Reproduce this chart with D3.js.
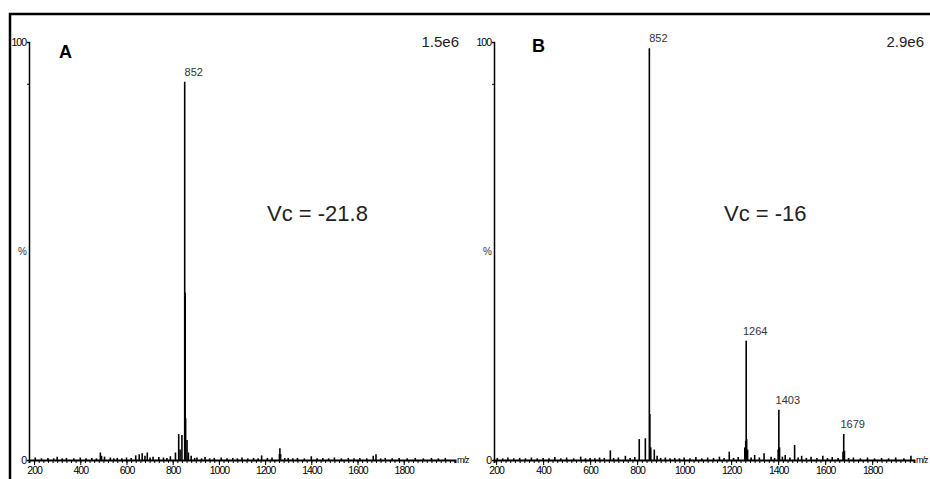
<!DOCTYPE html>
<html>
<head>
<meta charset="utf-8">
<script src="https://cdn.jsdelivr.net/npm/d3@7"></script>
<style>
body { margin: 0; background: #fff; }
svg text { font-family: "Liberation Sans", Arial, sans-serif; }
.axis text { font-family: "Liberation Sans Narrow", "Liberation Sans", sans-serif; font-size: 10.5px; letter-spacing: -1px; fill: #000; }
.axis path, .axis line { stroke: #000; }
</style>
</head>
<body>
<div id="chart"></div>
<script>
var svgWidth = 930;
var svgHeight = 479;

// panel A, Vc = -21.8 : [m/z, relative intensity %]
var peaksA = [
    [205, 0.6], [232, 0.4], [260, 0.5], [285, 0.4], [300, 0.8], [322, 0.4], [340, 0.5],
    [372, 0.4], [400, 0.6], [425, 0.4], [450, 0.5], [470, 0.4],
    [487, 1.8], [492, 1.0], [505, 0.8], [530, 0.6], [545, 0.4], [560, 0.5], [580, 0.4],
    [600, 0.6], [620, 0.5], [640, 1.1], [655, 1.4], [668, 1.6], [680, 1.0], [690, 1.8],
    [702, 0.6], [715, 0.8], [740, 0.7], [760, 0.6], [775, 0.5], [790, 0.9], [812, 1.8],
    [826, 6.2], [832, 2.5], [840, 6.0], [852, 90.5], [854, 40.0], [856, 10.0], [862, 4.8],
    [868, 1.8], [880, 1.0], [895, 0.5], [905, 0.6], [925, 0.4], [940, 0.7], [960, 0.4],
    [980, 0.5], [1010, 0.6], [1035, 0.4], [1060, 0.5], [1080, 0.4], [1100, 0.6],
    [1125, 0.4], [1150, 0.5], [1170, 0.4], [1185, 1.1], [1210, 0.5], [1230, 0.6],
    [1262, 1.4], [1264, 2.8], [1267, 1.4], [1285, 0.5], [1300, 0.5], [1320, 0.4],
    [1340, 0.5], [1370, 0.4], [1400, 0.9], [1425, 0.4], [1450, 0.5], [1475, 0.4],
    [1500, 0.6], [1530, 0.4], [1560, 0.5], [1585, 0.4], [1610, 0.5], [1640, 0.4],
    [1668, 1.0], [1680, 1.4], [1700, 0.4], [1720, 0.5], [1750, 0.4], [1780, 0.5],
    [1815, 0.4], [1850, 0.5], [1885, 0.4], [1920, 0.5], [1950, 0.4], [1980, 0.5]
];
var labelsA = [852];

// panel B, Vc = -16
var peaksB = [
    [205, 0.5], [228, 0.4], [250, 0.6], [275, 0.4], [300, 0.5], [325, 0.4], [350, 0.6],
    [375, 0.4], [400, 0.5], [425, 0.4], [450, 0.7], [475, 0.4], [500, 0.6], [530, 0.4],
    [560, 0.8], [580, 0.4], [600, 0.5], [620, 0.4], [640, 0.6], [660, 0.5], [686, 2.3],
    [700, 0.5], [720, 0.6], [750, 1.0], [770, 0.5], [790, 0.7], [809, 5.0], [835, 5.2],
    [852, 98.5], [854, 11.0], [858, 3.0], [873, 2.5], [885, 1.0], [900, 0.5], [920, 0.6],
    [940, 0.4], [960, 0.5], [980, 0.4], [1000, 0.6], [1025, 0.4], [1050, 0.7], [1075, 0.4],
    [1100, 0.6], [1125, 0.5], [1150, 0.8], [1170, 0.5], [1192, 2.0], [1210, 0.5],
    [1230, 0.7], [1258, 3.0], [1262, 4.5], [1264, 28.5], [1266, 5.0], [1270, 2.5],
    [1285, 0.6], [1300, 1.2], [1320, 0.6], [1340, 1.6], [1370, 0.8], [1385, 0.5],
    [1400, 2.5], [1403, 12.0], [1406, 3.0], [1418, 0.8], [1430, 1.2], [1450, 0.6],
    [1470, 3.6], [1485, 0.6], [1500, 1.0], [1520, 0.5], [1540, 0.8], [1565, 0.5],
    [1590, 1.0], [1610, 0.5], [1630, 0.7], [1655, 0.5], [1676, 2.0], [1679, 6.2],
    [1682, 2.2], [1700, 0.5], [1720, 0.6], [1750, 0.4], [1780, 0.6], [1810, 0.4],
    [1840, 0.5], [1870, 0.4], [1900, 0.6], [1935, 0.4], [1965, 1.0]
];
var labelsB = [852, 1264, 1403, 1679];

var xTickLabels = [200, 400, 600, 800, 1000, 1200, 1400, 1600, 1800];

var panels = [
    { letter: "A", scaleText: "1.5e6", vc: "Vc = -21.8", peaks: peaksA, labels: labelsA,
      domain: [178, 2022], left: 29, right: 455, letterX: 59, letterY: 58, vcX: 267, scaleX: 459 },
    { letter: "B", scaleText: "2.9e6", vc: "Vc = -16", peaks: peaksB, labels: labelsB,
      domain: [191, 1978], left: 494, right: 914, letterX: 532, letterY: 52, vcX: 724, scaleX: 924 }
];

var plotTop = 42;
var plotBottom = 460;

var svg = d3.select("#chart")
    .append("svg")
    .attr("width", svgWidth)
    .attr("height", svgHeight);

// outer frame (cut off at right and bottom like the source)
svg.append("rect")
    .attr("x", 10)
    .attr("y", 14)
    .attr("width", 940)
    .attr("height", 500)
    .attr("fill", "none")
    .attr("stroke", "#000")
    .attr("stroke-width", 2.5);

panels.forEach(function (p) {
    var xScale = d3.scaleLinear().domain(p.domain).range([p.left, p.right]);
    var yScale = d3.scaleLinear().domain([0, 100]).range([plotBottom, plotTop]);

    var g = svg.append("g");

    // minor ticks every 20
    var minorAxis = d3.axisBottom(xScale)
        .tickValues(d3.range(200, p.domain[1], 20))
        .tickSize(3)
        .tickFormat("");
    g.append("g")
        .attr("class", "axis")
        .attr("transform", `translate(0, ${plotBottom})`)
        .call(minorAxis)
        .select(".domain").attr("stroke-width", 2);

    var majorAxis = d3.axisBottom(xScale)
        .tickValues(xTickLabels)
        .tickSize(5)
        .tickPadding(2)
        .tickFormat(d3.format("d"));
    var xg = g.append("g")
        .attr("class", "axis")
        .attr("transform", `translate(0, ${plotBottom})`)
        .call(majorAxis);
    xg.select(".domain").remove();

    g.append("text")
        .attr("x", p.right + 2)
        .attr("y", plotBottom + 3)
        .attr("font-size", 9)
        .attr("letter-spacing", -1)
        .attr("font-family", "Liberation Sans Narrow, Liberation Sans, sans-serif")
        .text("m/z");

    // y axis
    var leftAxis = d3.axisLeft(yScale)
        .tickValues([0, 90, 100])
        .tickSize(2)
        .tickPadding(1)
        .tickFormat(d => d == 90 ? "" : d);
    var yg = g.append("g")
        .attr("class", "axis")
        .attr("transform", `translate(${p.left}, 0)`)
        .call(leftAxis);
    yg.select(".domain").attr("stroke-width", 1.5);
    yg.selectAll("text").attr("font-size", 9);

    g.append("text")
        .attr("x", p.left - 2)
        .attr("y", (plotTop + plotBottom) / 2 + 4)
        .attr("text-anchor", "end")
        .attr("font-size", 10)
        .attr("fill", "#333")
        .text("%");

    // spectrum sticks
    g.selectAll(".peak")
        .data(p.peaks)
        .enter()
        .append("line")
        .attr("class", "peak")
        .attr("x1", d => xScale(d[0]))
        .attr("x2", d => xScale(d[0]))
        .attr("y1", yScale(0))
        .attr("y2", d => yScale(d[1]))
        .attr("stroke", "#000")
        .attr("stroke-width", 1.6);

    // peak labels
    g.selectAll(".plabel")
        .data(p.labels)
        .enter()
        .append("text")
        .attr("class", "plabel")
        .attr("x", m => xScale(m) + 9)
        .attr("y", function (m) {
            var pk = p.peaks.find(d => d[0] == m);
            return Math.max(yScale(pk[1]) - 6, 24);
        })
        .attr("text-anchor", "middle")
        .attr("font-size", 11)
        .attr("fill", "#333")
        .text(m => m);

    g.append("text")
        .attr("x", p.letterX)
        .attr("y", p.letterY)
        .attr("font-size", 18)
        .attr("font-weight", "bold")
        .text(p.letter);

    g.append("text")
        .attr("x", p.scaleX)
        .attr("y", 47)
        .attr("text-anchor", "end")
        .attr("font-size", 15)
        .attr("fill", "#222")
        .text(p.scaleText);

    g.append("text")
        .attr("x", p.vcX)
        .attr("y", 221)
        .attr("font-size", 22)
        .attr("fill", "#222")
        .text(p.vc);
});
</script>
</body>
</html>
